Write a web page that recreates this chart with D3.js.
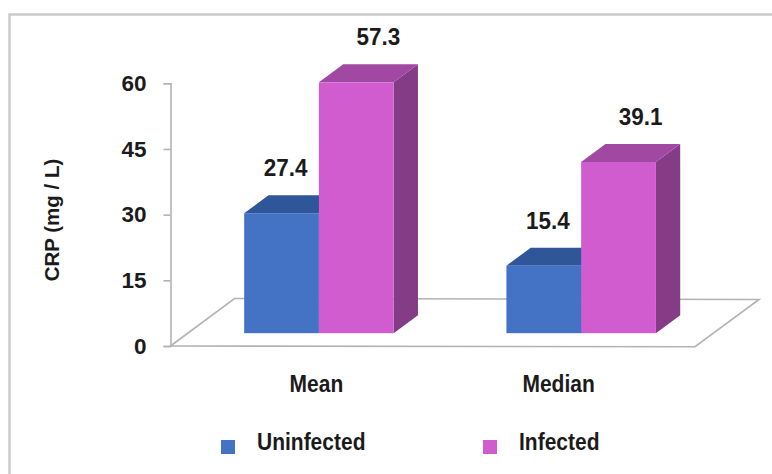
<!DOCTYPE html>
<html>
<head>
<meta charset="utf-8">
<script src="https://cdn.jsdelivr.net/npm/d3@7"></script>
<style>
  html, body { margin: 0; padding: 0; background: #fff; }
  svg { display: block; }
  text { font-family: "Liberation Sans", Arial, sans-serif; font-weight: bold; fill: #1b1b1b; }
</style>
</head>
<body>
<svg id="chart" width="772" height="474"></svg>
<script>
// Chart data
const categories = ["Mean", "Median"];
const seriesNames = ["Uninfected", "Infected"];
const uninfected = [27.4, 15.4];
const infected = [57.3, 39.1];
const yTicks = [0, 15, 30, 45, 60];
const yTitle = "CRP (mg / L)";

// Styles
const palette = {
  Uninfected: { front: "#4472c4", top: "#30569a", side: "#2c4f8e" },
  Infected:   { front: "#d05cd0", top: "#a048a2", side: "#843c86" }
};
const labelDx = { Uninfected: 4, Infected: 22 };
const textStretch = 1.1;

const values = { Uninfected: uninfected, Infected: infected };

const svg = d3.select("#chart");
const W = 772, H = 474;

// place a text node at (x, y) with a slight vertical stretch
function placeText(sel, x, y) {
  return sel.attr("transform", `translate(${x},${y}) scale(1,${textStretch})`);
}

// outer frame (top and left edges visible)
svg.append("path")
  .attr("d", `M9.5,${H} L9.5,14.5 L${W},14.5`)
  .attr("fill", "none").attr("stroke", "#cacaca").attr("stroke-width", 2.5);

// floor geometry: front edge and oblique depth vector
const floorLeft = 170.5, floorRight = 695, floorY = 346;
const depth = { x: 64, y: -47.5 };
const barDepthStart = 0.27, barDepthEnd = 0.65;

// scales
const y = d3.scaleLinear().domain([0, 60]).range([floorY, 83.3]);
const x0 = d3.scaleBand().domain(categories).range([floorLeft, floorRight])
  .paddingInner(0.43).paddingOuter(0.215);
const x1 = d3.scaleBand().domain(seriesNames).range([0, x0.bandwidth()]).padding(0);
const labelX = d3.scalePoint().domain(categories).range([175, 700]).padding(0.584);

// floor
const fl = [
  [floorLeft, floorY],
  [floorLeft + depth.x, floorY + depth.y],
  [floorRight + depth.x, floorY + depth.y + 1],
  [floorRight, floorY + 0.7]
];
svg.append("polygon")
  .attr("points", fl.map(p => p.join(",")).join(" "))
  .attr("fill", "none").attr("stroke", "#b3b3b3").attr("stroke-width", 1.6);

// y axis
const yAxis = d3.axisLeft(y).tickValues(yTicks).tickSize(7).tickPadding(17);
const gy = svg.append("g").attr("transform", `translate(${floorLeft},0)`).call(yAxis);
gy.select(".domain").attr("stroke", "#b3b3b3").attr("stroke-width", 1.6);
gy.selectAll(".tick line").attr("stroke", "#b3b3b3").attr("stroke-width", 1.6);
gy.selectAll(".tick text")
  .attr("font-size", 22.5).attr("fill", "#1b1b1b")
  .attr("font-family", "Liberation Sans, Arial, sans-serif").attr("font-weight", "bold");

// y title
svg.append("text")
  .attr("transform", "translate(59,220) rotate(-90)")
  .attr("text-anchor", "middle")
  .attr("font-size", 20.5)
  .text(yTitle);

// 3D bars
const off0 = { x: depth.x * barDepthStart, y: depth.y * barDepthStart };
const dd = { x: depth.x * (barDepthEnd - barDepthStart), y: depth.y * (barDepthEnd - barDepthStart) };

const bars = [];
seriesNames.forEach(s => {
  categories.forEach((c, i) => {
    bars.push({ s, c, v: values[s][i] });
  });
});

const g = svg.append("g");
bars.forEach(b => {
  const xl = x0(b.c) + x1(b.s) + off0.x;
  const xr = xl + x1.bandwidth();
  const yb = y(0) + off0.y;
  const yt = y(b.v) + off0.y;
  const col = palette[b.s];
  // side face
  g.append("polygon")
    .attr("points", [[xr, yb], [xr, yt], [xr + dd.x, yt + dd.y], [xr + dd.x, yb + dd.y]].map(p => p.join(",")).join(" "))
    .attr("fill", col.side);
  // top face
  g.append("polygon")
    .attr("points", [[xl, yt], [xr, yt], [xr + dd.x, yt + dd.y], [xl + dd.x, yt + dd.y]].map(p => p.join(",")).join(" "))
    .attr("fill", col.top);
  // front face
  g.append("rect")
    .attr("x", xl).attr("y", yt).attr("width", xr - xl).attr("height", yb - yt)
    .attr("fill", col.front);
});

// value labels
bars.forEach(b => {
  const xl = x0(b.c) + x1(b.s) + off0.x;
  const cx = xl + x1.bandwidth() / 2 + labelDx[b.s];
  const yt = y(b.v) + off0.y;
  placeText(svg.append("text"), cx, yt - 37)
    .attr("text-anchor", "middle")
    .attr("font-size", 22.5)
    .text(b.v.toFixed(1));
});

// category labels
categories.forEach(c => {
  placeText(svg.append("text"), labelX(c), 392)
    .attr("text-anchor", "middle")
    .attr("font-size", 21)
    .text(c);
});

// legend
const legendX = d3.scalePoint().domain(seriesNames).range([221, 483]);
seriesNames.forEach(s => {
  const lx = legendX(s);
  svg.append("rect")
    .attr("x", lx).attr("y", 440).attr("width", 14).attr("height", 14)
    .attr("fill", palette[s].front);
  placeText(svg.append("text"), lx + 36, 450)
    .attr("font-size", 21)
    .text(s);
});
</script>
</body>
</html>
